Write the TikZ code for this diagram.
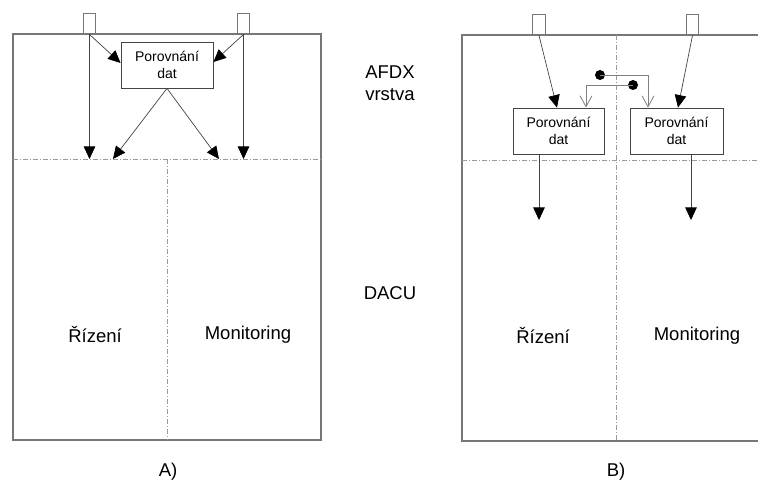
\documentclass[tikz,border=0pt]{standalone}
\usepackage{fontspec}
\setmainfont{Liberation Sans}
\usetikzlibrary{arrows.meta}
\definecolor{frame}{HTML}{777777}
\definecolor{guide}{HTML}{9A9A9A}
\definecolor{wire}{HTML}{444444}
\definecolor{link}{HTML}{808080}
\tikzset{
  frameline/.style={draw=frame, line width=1.2pt},
  guideline/.style={draw=guide, line width=0.8pt, dash pattern=on 5pt off 2pt on 1pt off 2pt},
  port/.style={draw=frame, line width=0.9pt, inner sep=0pt, minimum width=12.5pt, minimum height=21pt},
  cmpbox/.style={draw=wire, line width=0.8pt, inner sep=0pt, minimum height=46pt, align=center, font=\fontsize{14}{16.5}\selectfont},
  flow/.style={draw=wire, line width=0.7pt, -{Triangle[length=12.5pt,width=11.5pt,fill=black,color=black]}},
  cross/.style={draw=link, line width=0.8pt, -{Straight Barb[length=11pt,width=12pt,line width=0.8pt]}},
  label/.style={font=\fontsize{18.5}{22}\selectfont, align=center},
  dot/.style={fill=black, circle, inner sep=0pt, minimum size=10pt}
}
\begin{document}
\begin{tikzpicture}[x=1pt,y=-1pt]
\useasboundingbox (0,0) rectangle (758,481);
\fill[white] (0,0) rectangle (758,481);

% ---------------- variant A ----------------
\draw[frameline] (13,34) rectangle (321,440);
\draw[guideline] (13,159) -- (321,159);
\draw[guideline] (167,159) -- (167,440);

\node[port] (pa1) at (89.5,23.5) {};
\node[port] (pa2) at (243.5,23.5) {};
\node[cmpbox, minimum width=92pt] (cmpA) at (167,65) {Porovnání\\dat};

\coordinate (a1) at (113,159);
\coordinate (a2) at (219,159);

\draw[flow] (pa1.south) -- ([yshift=2pt]cmpA.west);
\draw[flow] (pa2.south) -- ([yshift=3pt]cmpA.east);
\draw[flow] (pa1.south) -- (pa1.south |- a1);
\draw[flow] (pa2.south) -- (pa2.south |- a2);
\draw[flow] (cmpA.south) -- (a1);
\draw[flow] (cmpA.south) -- (a2);

\node[label] (rA) at (95,335) {Řízení};
\node[label] (mA) at (248,335) {Monitoring};
\node[label] (capA) at (168,472) {A)};

% ---------------- shared labels ----------------
\node[label] (afdx) at (390,83) {AFDX\\vrstva};
\node[label] (dacu) at (390,293) {DACU};

% ---------------- variant B ----------------
\draw[frameline] (758,35) -- (462,35) -- (462,441) -- (758,441);
\draw[guideline] (462,160) -- (758,160);
\draw[guideline] (616,35) -- (616,441);

\node[port] (pb1) at (539,24.5) {};
\node[port] (pb2) at (692.5,24.5) {};
\node[cmpbox, minimum width=91pt] (cmpB1) at (558.5,131) {Porovnání\\dat};
\node[cmpbox, minimum width=93pt] (cmpB2) at (676.5,131) {Porovnání\\dat};

\draw[flow] (pb1.south) -- ([xshift=-1.5pt]cmpB1.north);
\draw[flow] (pb2.south) -- ([xshift=1.5pt]cmpB2.north);

\node[dot] (d1) at (600,75) {};
\node[dot] (d2) at (633,85) {};
\draw[cross] (d1.center) -| ([xshift=-28.5pt]cmpB2.north);
\draw[cross] (d2.center) -| ([xshift=27.5pt]cmpB1.north);

\coordinate (o1) at (539,220);
\coordinate (o2) at (691,220);
\draw[flow] (cmpB1.south -| o1) -- (o1);
\draw[flow] (cmpB2.south -| o2) -- (o2);

\node[label] (rB) at (543,336) {Řízení};
\node[label] (mB) at (697,336) {Monitoring};
\node[label] (capB) at (616,472) {B)};
\end{tikzpicture}
\end{document}
